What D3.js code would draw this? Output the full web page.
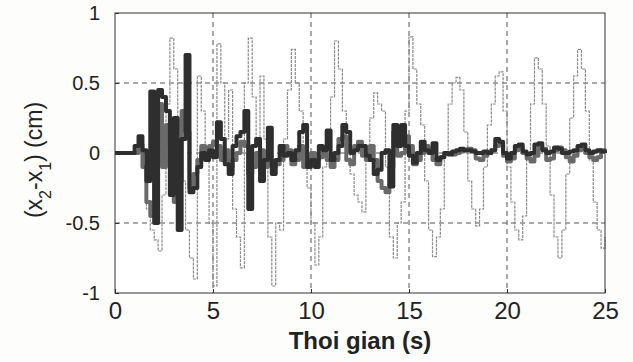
<!DOCTYPE html>
<html>
<head>
<meta charset="utf-8">
<script src="https://cdn.jsdelivr.net/npm/d3@7"></script>
<style>
  body { margin: 0; background: #fff; }
  svg { display: block; font-family: Arial, "Liberation Sans", sans-serif; }
</style>
</head>
<body>
<div id="chart"></div>
<script>
// 取樣間隔 0.2 s, 0 ~ 25 s
const dt = 0.2;
const xTicks = [0, 5, 10, 15, 20, 25];
const yTicks = [-1, -0.5, 0, 0.5, 1];

// 細灰線 (大振幅)
const thinValues = [
  0, 0, 0, 0, 0, 0.02, 0.08, -0.1, -0.4, -0.55,
  -0.62, -0.7, -0.3, 0.35, 0.82, 0.6, 0.2, -0.2, -0.55, -0.75,
  -0.9, 0.55, 0.3, 0.0, -0.5, -0.95, 0.78, 0.5, 0.1, 0.45,
  -0.4, -0.6, -0.82, 0.5, 0.82, 0.4, 0.1, 0.55, 0.1, -0.6,
  -0.95, -0.5, -0.55, 0.1, 0.45, 0.74, 0.5, 0.3, 0.0, -0.25,
  -0.5, -0.8, -0.6, -0.1, 0.1, 0.4, 0.8, 0.6, 0.3, 0.1,
  -0.15, -0.3, -0.35, -0.42, 0.0, 0.25, 0.43, 0.35, 0.3, -0.1,
  -0.6, -0.75, -0.5, -0.35, 0.3, 0.83, 0.6, 0.35, 0.2, -0.2,
  -0.55, -0.74, -0.6, -0.4, 0.0, 0.35, 0.5, 0.54, 0.45, 0.15,
  -0.2, -0.4, -0.52, -0.4, -0.1, 0.2, 0.35, 0.55, 0.58, 0.3,
  -0.1, -0.35, -0.55, -0.62, -0.45, 0.0, 0.35, 0.68, 0.6, 0.35,
  0.05, -0.3, -0.6, -0.75, -0.55, -0.15, 0.25, 0.55, 0.74, 0.6,
  0.3, -0.05, -0.35, -0.55, -0.68, -0.6
];

// 中灰粗線
const midValues = [
  0, 0, 0, 0, 0, 0.0, 0.06, -0.1, -0.35, -0.45,
  0.3, 0.35, -0.1, 0.2, 0.05, -0.35, -0.2, 0.3, 0.15, -0.25,
  -0.15, -0.05, 0.05, 0.0, 0.05, 0.08, 0.05, -0.05, 0.02, -0.1,
  -0.05, 0.0, 0.08, 0.05, -0.15, -0.1, 0.0, 0.02, -0.1, -0.05,
  -0.1, -0.08, -0.05, 0.05, 0.02, -0.08, -0.05, 0.05, -0.1, -0.08,
  0.0, -0.05, -0.03, 0.0, -0.05, -0.1, -0.05, 0.1, 0.12, -0.05,
  -0.08, 0.05, 0.08, -0.02, -0.05, 0.05, -0.05, -0.2, -0.25, -0.28,
  -0.1, 0.15, -0.02, 0.0, 0.12, 0.05, -0.08, -0.05, 0.0, 0.05,
  0.03, -0.05, -0.08, -0.03, 0.0, 0.0, -0.01, 0.0, 0.01, 0.02,
  0.03, 0.02, -0.04, -0.05, -0.02, 0.0, 0.02, 0.05, 0.06, -0.02,
  -0.06, -0.04, 0.02, 0.04, 0.0, -0.04, -0.06, -0.02, 0.04, 0.03,
  -0.05, -0.04, 0.02, 0.04, 0.02, -0.03, -0.06, -0.02, 0.02, 0.03,
  0.0, -0.03, -0.05, -0.03, 0.02, 0.0
];

// 深色粗線
const darkValues = [
  0, 0, 0, 0, 0, 0.05, 0.12, 0.02, -0.2, 0.44,
  -0.5, 0.45, 0.4, 0.3, -0.3, 0.25, -0.55, 0.1, 0.7, -0.28,
  -0.25, -0.1, 0.0, -0.05, 0.02, -0.03, 0.22, 0.1, -0.08, -0.15,
  0.05, 0.12, 0.15, 0.3, -0.4, 0.05, 0.1, -0.2, -0.05, 0.18,
  -0.15, -0.05, 0.05, -0.02, 0.0, -0.05, 0.02, 0.15, 0.2, -0.1,
  -0.05, -0.1, 0.05, 0.02, 0.16, -0.05, 0.0, 0.05, 0.2, 0.15,
  0.0, 0.02, 0.05, 0.05, -0.02, -0.05, -0.15, -0.12, 0.0, 0.02,
  -0.24, 0.2, 0.05, 0.2, 0.05, -0.02, -0.07, 0.0, 0.08, 0.02,
  0.0, 0.07, -0.05, -0.03, 0.0, -0.01, 0.01, 0.02, 0.03, 0.02,
  0.02, 0.01, 0.0, 0.0, 0.01, 0.0, 0.02, 0.1, 0.08, 0.0,
  -0.04, 0.0, 0.05, 0.06, 0.01, -0.01, 0.0, 0.06, 0.07, 0.02,
  0.0, 0.01, 0.04, 0.03, 0.0, 0.0, 0.01, 0.02, 0.05, 0.06,
  0.02, 0.0, 0.01, 0.02, 0.01, 0.0
];

const width = 633;
const height = 362;
const margin = { top: 13, right: 28, bottom: 69, left: 115 };

const svg = d3.select("#chart")
  .append("svg")
  .attr("width", width)
  .attr("height", height);

svg.append("rect")
  .attr("width", width)
  .attr("height", height)
  .attr("fill", "#fdfdfc");

const x = d3.scaleLinear()
  .domain([0, 25])
  .range([margin.left, width - margin.right]);

const y = d3.scaleLinear()
  .domain([-1, 1])
  .range([height - margin.bottom, margin.top]);

// 背景白色繪圖區
svg.append("rect")
  .attr("x", x(0))
  .attr("y", y(1))
  .attr("width", x(25) - x(0))
  .attr("height", y(-1) - y(1))
  .attr("fill", "#fff");

// 格線 (虛線)
svg.append("g")
  .selectAll("line")
  .data(xTicks.slice(1, -1))
  .enter()
  .append("line")
  .attr("x1", d => x(d))
  .attr("x2", d => x(d))
  .attr("y1", y(1))
  .attr("y2", y(-1))
  .attr("stroke", "#555")
  .attr("stroke-width", 1)
  .attr("stroke-dasharray", "5,4");

svg.append("g")
  .selectAll("line")
  .data(yTicks.slice(1, -1))
  .enter()
  .append("line")
  .attr("x1", x(0))
  .attr("x2", x(25))
  .attr("y1", d => y(d))
  .attr("y2", d => y(d))
  .attr("stroke", "#555")
  .attr("stroke-width", 1)
  .attr("stroke-dasharray", "5,4");

const toPoints = vals => vals.map((v, i) => [i * dt, v]);

const line = d3.line()
  .x(d => x(d[0]))
  .y(d => y(d[1]))
  .curve(d3.curveStepAfter);

// 細灰線
svg.append("path")
  .datum(toPoints(thinValues))
  .attr("d", line)
  .attr("fill", "none")
  .attr("stroke", "#8a8a8a")
  .attr("stroke-width", 1.2)
  .attr("stroke-dasharray", "3,1");

// 中灰粗線
svg.append("path")
  .datum(toPoints(midValues))
  .attr("d", line)
  .attr("fill", "none")
  .attr("stroke", "#6a6a6a")
  .attr("stroke-width", 4)
  .attr("stroke-linejoin", "round");

// 深色粗線
svg.append("path")
  .datum(toPoints(darkValues))
  .attr("d", line)
  .attr("fill", "none")
  .attr("stroke", "#2e2e2e")
  .attr("stroke-width", 4)
  .attr("stroke-linejoin", "round");

// 邊框
svg.append("rect")
  .attr("x", x(0))
  .attr("y", y(1))
  .attr("width", x(25) - x(0))
  .attr("height", y(-1) - y(1))
  .attr("fill", "none")
  .attr("stroke", "#333")
  .attr("stroke-width", 1);

// x 軸
const xAxis = svg.append("g")
  .attr("transform", `translate(0, ${y(-1)})`)
  .call(d3.axisBottom(x).tickValues(xTicks).tickSize(-4).tickPadding(9)
    .tickFormat(d => String(d)).tickSizeOuter(0));
xAxis.select(".domain").remove();
xAxis.selectAll(".tick line").attr("stroke", "#333");
xAxis.selectAll("text")
  .attr("font-size", "24px")
  .attr("fill", "#222");

// y 軸
const yAxis = svg.append("g")
  .attr("transform", `translate(${x(0)}, 0)`)
  .call(d3.axisLeft(y).tickValues(yTicks).tickSize(-4).tickPadding(15)
    .tickFormat(d => String(d)).tickSizeOuter(0));
yAxis.select(".domain").remove();
yAxis.selectAll(".tick line").attr("stroke", "#333");
yAxis.selectAll("text")
  .attr("font-size", "20px")
  .attr("fill", "#222");

// x 軸標題
svg.append("text")
  .attr("x", (x(0) + x(25)) / 2)
  .attr("y", 349)
  .attr("text-anchor", "middle")
  .attr("font-size", "24px")
  .attr("font-weight", "bold")
  .attr("fill", "#222")
  .text("Thoi gian (s)");

// y 軸標題 (含下標)
const yLabel = svg.append("text")
  .attr("transform", `translate(42, 160) rotate(-90)`)
  .attr("text-anchor", "middle")
  .attr("font-size", "23px")
  .attr("fill", "#222");
yLabel.append("tspan").text("(x");
yLabel.append("tspan").attr("baseline-shift", "sub").attr("font-size", "16px").text("2");
yLabel.append("tspan").text("-x");
yLabel.append("tspan").attr("baseline-shift", "sub").attr("font-size", "16px").text("1");
yLabel.append("tspan").text(") (cm)");
</script>
</body>
</html>
